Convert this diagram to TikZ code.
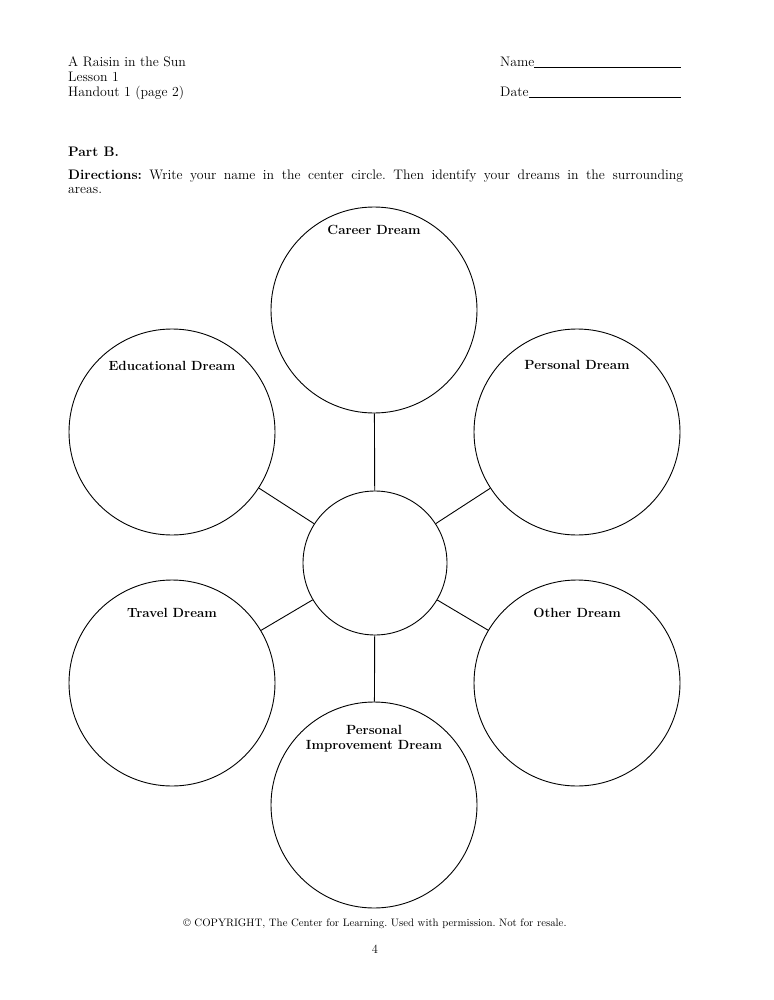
\documentclass[tikz,border=0pt]{standalone}
\usepackage{tikz}
\usetikzlibrary{positioning, calc}
\newcommand{\Sz}[1]{\fontsize{#1}{#1}\selectfont}
\frenchspacing
\tikzset{
    dream/.style={circle, draw, line width=0.9pt, inner sep=0pt, minimum size=206pt},
    hub/.style={circle, draw, line width=0.9pt, inner sep=0pt, minimum size=144pt},
    spoke/.style={line width=0.9pt},
    tag/.append style={font=\fontsize{13.3}{15}\selectfont\bfseries, align=center, inner sep=0pt},
    head/.append style={font=\Sz{13.8}, anchor=base west, inner sep=0pt},
}
\begin{document}
\begin{tikzpicture}[x=1pt, y=-1pt]
    \tikzset{
      node distance=16pt
    }
    \useasboundingbox (0,0) rectangle (773,1000);

    % header
    \node[head] (title) at (68,67) {A Raisin in the Sun};
    \node[head] (lesson) at (68,82) {Lesson 1};
    \node[head] (handout) at (68,97) {Handout 1 (page 2)};
    \node[head] (name) at (500,67) {\makebox[181pt][l]{Name\hrulefill}};
    \node[head] (date) at (500,97) {\makebox[181pt][l]{Date\hrulefill}};

    \node[head] (part) at (68,157) {\bfseries Part B.};
    \node[head, anchor=north west, text width=615pt, align=justify] (dirs) at (68,170)
      {\textbf{Directions:} Write your name in the center circle. Then identify your dreams in the surrounding\linebreak areas.};

    % circles
    \node[hub] (me) at (375,563) {};
    \node[dream] (career) at (374,310) {};
    \node[dream] (educ) at (172,432) {};
    \node[dream] (pers) at (577,432) {};
    \node[dream] (travel) at (172,683) {};
    \node[dream] (other) at (577,683) {};
    \node[dream] (improve) at (374,805) {};

    \node[tag, below=18pt of career.north] (careertag) {Career Dream};
    \node[tag, below=33pt of educ.north] (eductag) {Educational Dream};
    \node[tag, below=32pt of pers.north] (perstag) {Personal Dream};
    \node[tag, below=29pt of travel.north] (traveltag) {Travel Dream};
    \node[tag, below=28pt of other.north] (othertag) {Other Dream};
    \node[tag, below=24pt of improve.north] (improvetag) {Personal\\Improvement Dream};

    \foreach \d in {career, educ, pers, travel, other, improve}
      \draw[spoke] (me) -- (\d);

    % footer
    \node[font=\Sz{10.8}, inner sep=0pt] (copy) at (375,924) {\textcopyright{} COPYRIGHT, The Center for Learning. Used with permission. Not for resale.};
    \node[font=\Sz{12.5}, inner sep=0pt] (page) at (375,949) {4};
\end{tikzpicture}
\end{document}
